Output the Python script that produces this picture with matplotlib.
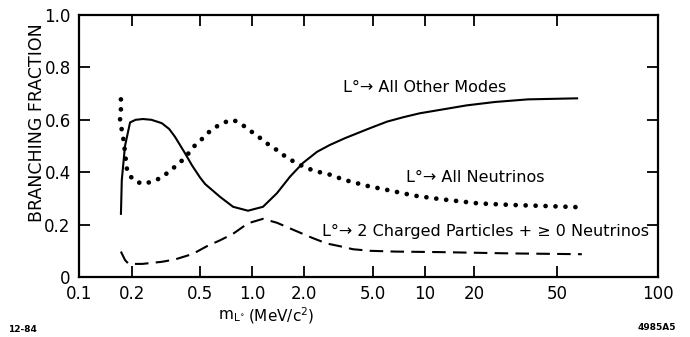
import numpy as np
import matplotlib
matplotlib.use("Agg")
import matplotlib.pyplot as plt
from matplotlib.ticker import FixedLocator, NullLocator, FixedFormatter

plt.rcParams['font.family'] = ['DejaVu Sans']

# ---- data ----
other_x = [0.173, 0.175, 0.1825, 0.195, 0.21, 0.232, 0.26, 0.299, 0.33, 0.357, 0.408, 0.45,
           0.5, 0.535, 0.653, 0.777, 0.948, 1.158, 1.395, 1.66, 1.97, 2.38, 2.82, 3.45,
           3.83, 4.8, 6.03, 7.5, 9.35, 12.4, 18.0, 25.2, 36.3, 57.8]
other_y = [0.237, 0.37, 0.50, 0.59, 0.600, 0.603, 0.600, 0.587, 0.565, 0.535, 0.473, 0.425,
           0.38, 0.355, 0.306, 0.268, 0.253, 0.268, 0.32, 0.383, 0.435, 0.478, 0.504, 0.53,
           0.542, 0.568, 0.593, 0.610, 0.625, 0.638, 0.655, 0.668, 0.678, 0.682]

nu_x = [0.173, 0.173, 0.171, 0.175, 0.180, 0.1825, 0.185, 0.188, 0.2035, 0.230,
        0.263, 0.299, 0.337, 0.373, 0.414, 0.453, 0.507, 0.551, 0.611, 0.689,
        0.779, 0.883, 0.983, 1.102, 1.233, 1.39, 1.538, 1.72, 1.94, 2.23, 2.53,
        2.89, 3.30, 3.72, 4.21, 4.81, 5.49, 6.27, 7.17, 8.19, 9.35, 10.7, 12.4,
        13.85, 20.9, 30.3, 43.8, 59.3]
nu_y = [0.678, 0.637, 0.60, 0.561, 0.514, 0.474, 0.44, 0.402, 0.37, 0.355,
        0.364, 0.38, 0.408, 0.431, 0.459, 0.494, 0.523, 0.548, 0.571, 0.59,
        0.60, 0.58, 0.557, 0.533, 0.508, 0.485, 0.463, 0.443, 0.425, 0.408, 0.398,
        0.389, 0.374, 0.364, 0.355, 0.345, 0.338, 0.33, 0.322, 0.314, 0.307, 0.303, 0.297,
        0.294, 0.281, 0.275, 0.271, 0.266]

ch_x = [0.173, 0.1825, 0.19, 0.2, 0.23, 0.299, 0.357, 0.453, 0.55, 0.653, 0.777,
        0.948, 1.158, 1.395, 1.75, 2.2, 2.7, 3.3, 3.83, 4.8, 6.7, 12.4, 30.3, 59.3]
ch_y = [0.097, 0.065, 0.052, 0.050, 0.050, 0.058, 0.067, 0.088, 0.118, 0.14, 0.165,
        0.205, 0.222, 0.207, 0.179, 0.151, 0.128, 0.116, 0.106, 0.100, 0.097, 0.095, 0.090, 0.087]

x_ticks = [0.1, 0.2, 0.5, 1.0, 2.0, 5.0, 10, 20, 50, 100]
x_tick_labels = ["0.1", "0.2", "0.5", "1.0", "2.0", "5.0", "10", "20", "50", "100"]
y_ticks = [0, 0.2, 0.4, 0.6, 0.8, 1.0]
y_tick_labels = ["0", "0.2", "0.4", "0.6", "0.8", "1.0"]

# hand-drawn (non-uniform) log axis of the original: tick positions along the axis
_axis_pos = np.array([79, 132, 200, 252, 304, 373, 425, 474, 557, 658], dtype=float)
_log_ticks = np.log10(np.array(x_ticks, dtype=float))


def fwd(x):
    x = np.asarray(x, dtype=float)
    lx = np.log10(np.clip(x, 1e-6, None))
    return np.interp(lx, _log_ticks, _axis_pos)


def inv(p):
    p = np.asarray(p, dtype=float)
    return 10 ** np.interp(p, _axis_pos, _log_ticks)


W, H = 690, 337
fig = plt.figure(figsize=(W / 100, H / 100), dpi=100)
ax = fig.add_axes([79 / W, 1 - 277 / H, (658 - 79) / W, (277 - 15) / H])
ax.set_xscale('function', functions=(fwd, inv))
ax.set_xlim(0.1, 100)
ax.set_ylim(0, 1.0)

ax.plot(other_x, other_y, color='black', lw=1.5, solid_capstyle='butt',
        solid_joinstyle='round')
ax.plot(nu_x, nu_y, color='black', lw=3.4, linestyle=(0, (0.01, 2.1)),
        dash_capstyle='round')
ax.plot(ch_x, ch_y, color='black', lw=1.5, linestyle=(0, (6.5, 3.5)))

for s in ax.spines.values():
    s.set_linewidth(1.6)

ax.xaxis.set_major_locator(FixedLocator(x_ticks))
ax.xaxis.set_major_formatter(FixedFormatter(x_tick_labels))
ax.xaxis.set_minor_locator(NullLocator())
ax.yaxis.set_major_locator(FixedLocator(y_ticks))
ax.yaxis.set_major_formatter(FixedFormatter(y_tick_labels))
ax.yaxis.set_minor_locator(NullLocator())
ax.tick_params(axis='both', direction='in', length=8, width=1.3,
               top=True, right=True, labelsize=12)
ax.tick_params(axis='x', pad=6)
ax.tick_params(axis='y', pad=6)

# annotations
ax.text(0.456, 0.725, "L°→ All Other Modes", transform=ax.transAxes,
        fontsize=11.5, ha='left', va='center')
ax.text(0.565, 0.378, "L°→ All Neutrinos", transform=ax.transAxes,
        fontsize=11.5, ha='left', va='center')
ax.text(0.42, 0.172, "L°→ 2 Charged Particles + ≥ 0 Neutrinos", transform=ax.transAxes,
        fontsize=11.5, ha='left', va='center')

fig.text(37 / W, 1 - 123 / H, "BRANCHING FRACTION", rotation=90,
         ha='center', va='center', fontsize=12.5)
fig.text(218 / W, 1 - 316 / H, r"m$_{\mathregular{L}^{\circ}}$", ha='left', va='center',
         fontsize=11)
fig.text(248 / W, 1 - 316 / H, r"(MeV/c$^{2}$)", ha='left', va='center', fontsize=11)
fig.text(8 / W, 1 - 330 / H, "12-84", ha='left', va='center', fontsize=6.5,
         fontweight='bold')
fig.text(676 / W, 1 - 328 / H, "4985A5", ha='right', va='center', fontsize=6.5,
         fontweight='bold')

fig.savefig("out.png", dpi=100)
